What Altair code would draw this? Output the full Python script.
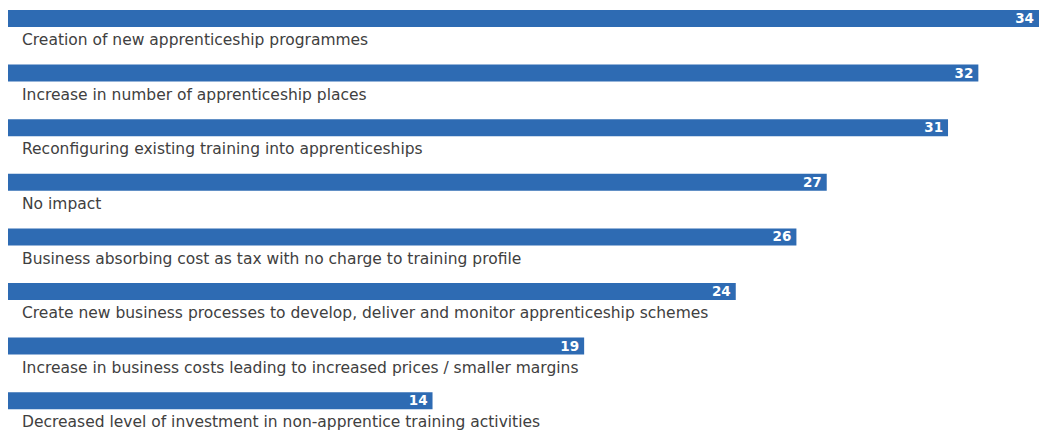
import altair as alt
import pandas as pd

categories = [
    "Creation of new apprenticeship programmes",
    "Increase in number of apprenticeship places",
    "Reconfiguring existing training into apprenticeships",
    "No impact",
    "Business absorbing cost as tax with no charge to training profile",
    "Create new business processes to develop, deliver and monitor apprenticeship schemes",
    "Increase in business costs leading to increased prices / smaller margins",
    "Decreased level of investment in non-apprentice training activities",
]
values = [34, 32, 31, 27, 26, 24, 19, 14]

df = pd.DataFrame({"category": categories, "value": values})

BAR_COLOR = "#2E6BB3"
STEP = 54.6

y = alt.Y(
    "category:N",
    sort=None,
    axis=None,
    scale=alt.Scale(range=[0, STEP * len(categories)], paddingInner=0, paddingOuter=0),
)
x = alt.X("value:Q", axis=None, scale=alt.Scale(domain=[0, 34], nice=False, zero=True))

base = alt.Chart(df)

bars = base.mark_bar(size=17, color=BAR_COLOR, yOffset=-16.8).encode(x=x, y=y)

values_text = base.mark_text(
    align="right", baseline="middle", dx=-5, yOffset=-16.3,
    color="white", fontWeight="bold", fontSize=13.5, font="DejaVu Sans",
).encode(x=x, y=y, text="value:Q")

labels = base.mark_text(
    align="left", baseline="middle", yOffset=4.9,
    color="#404040", fontSize=15.5, font="DejaVu Sans",
).encode(x=alt.value(14), y=y, text="category:N")

chart = (
    alt.layer(bars, values_text, labels)
    .properties(width=1031, height=428, padding=0, autosize=alt.AutoSizeParams(type="none"))
    .configure_view(stroke=None)
)

chart.save("out.html", embed_options={"renderer": "svg", "actions": False})
